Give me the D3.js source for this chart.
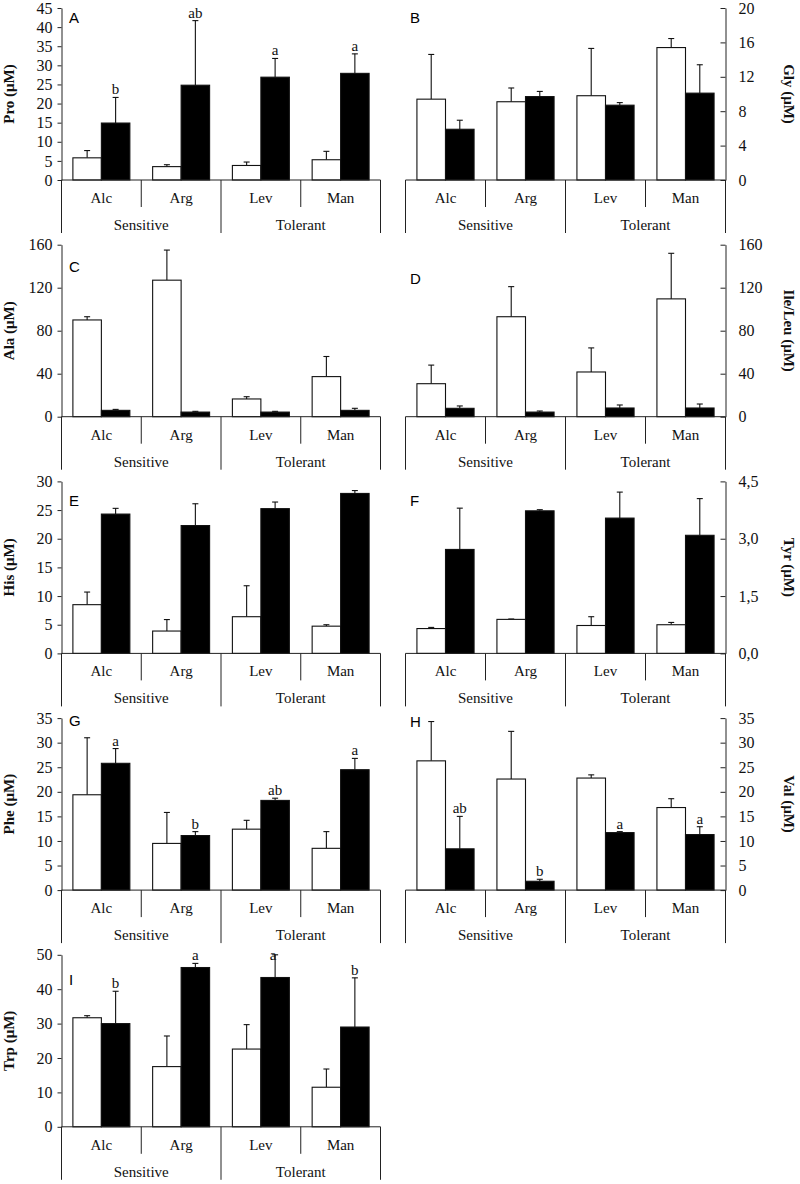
<!DOCTYPE html>
<html>
<head>
<meta charset="utf-8">
<script src="https://cdn.jsdelivr.net/npm/d3@7"></script>
<style>
  html, body { margin: 0; padding: 0; background: #fff; }
  svg { display: block; }
</style>
</head>
<body>
<script>
// ---------- DATA ----------
const categories = ["Alc", "Arg", "Lev", "Man"];
const groupLabels = ["Sensitive", "Tolerant"];

// A - Pro
const proWhite = [5.8, 3.5, 3.8, 5.3];
const proWhiteSD = [1.9, 0.5, 0.9, 2.2];
const proBlack = [14.9, 24.8, 26.9, 27.9];
const proBlackSD = [6.7, 16.9, 4.9, 5.1];
const proSig = ["b", "ab", "a", "a"];
const proTicks = [0, 5, 10, 15, 20, 25, 30, 35, 40, 45];

// B - Gly
const glyWhite = [9.4, 9.1, 9.8, 15.4];
const glyWhiteSD = [5.2, 1.6, 5.5, 1.05];
const glyBlack = [5.9, 9.7, 8.7, 10.1];
const glyBlackSD = [1.05, 0.6, 0.3, 3.3];
const glyTicks = [0, 4, 8, 12, 16, 20];

// C - Ala
const alaWhite = [90, 127, 16.5, 37.3];
const alaWhiteSD = [3, 28, 2.1, 18.7];
const alaBlack = [5.9, 4.3, 4.3, 5.9];
const alaBlackSD = [0.9, 0.7, 0.7, 1.9];
const alaTicks = [0, 40, 80, 120, 160];

// D - Ile/Leu
const ileWhite = [30.7, 93, 41.6, 109.6];
const ileWhiteSD = [17.3, 28, 22.4, 42.4];
const ileBlack = [7.8, 4.3, 8.1, 8.1];
const ileBlackSD = [2.2, 1.0, 2.8, 3.7];
const ileTicks = [0, 40, 80, 120, 160];

// E - His
const hisWhite = [8.5, 3.9, 6.4, 4.75];
const hisWhiteSD = [2.2, 2.0, 5.4, 0.25];
const hisBlack = [24.3, 22.3, 25.25, 27.9];
const hisBlackSD = [1.0, 3.8, 1.15, 0.5];
const hisTicks = [0, 5, 10, 15, 20, 25, 30];

// F - Tyr
const tyrWhite = [0.65, 0.89, 0.73, 0.75];
const tyrWhiteSD = [0.03, 0.01, 0.23, 0.06];
const tyrBlack = [2.72, 3.73, 3.54, 3.09];
const tyrBlackSD = [1.08, 0.03, 0.68, 0.96];
const tyrTicks = [0, 1.5, 3, 4.5];
const tyrTickLabels = ["0,0", "1,5", "3,0", "4,5"];

// G - Phe
const pheWhite = [19.4, 9.5, 12.4, 8.5];
const pheWhiteSD = [11.6, 6.3, 1.8, 3.4];
const pheBlack = [25.8, 11.1, 18.25, 24.5];
const pheBlackSD = [3.0, 0.8, 0.45, 2.3];
const pheSig = ["a", "b", "ab", "a"];
const pheTicks = [0, 5, 10, 15, 20, 25, 30, 35];

// H - Val
const valWhite = [26.3, 22.6, 22.8, 16.8];
const valWhiteSD = [8.0, 9.7, 0.65, 1.8];
const valBlack = [8.4, 1.8, 11.7, 11.3];
const valBlackSD = [6.6, 0.4, 0.2, 1.6];
const valSig = ["ab", "b", "a", "a"];
const valTicks = [0, 5, 10, 15, 20, 25, 30, 35];

// I - Trp
const trpWhite = [31.7, 17.5, 22.6, 11.5];
const trpWhiteSD = [0.6, 8.9, 7.1, 5.3];
const trpBlack = [30.0, 46.3, 43.4, 29.0];
const trpBlackSD = [9.4, 1.2, 6.6, 14.3];
const trpSig = ["b", "a", "a", "b"];
const trpTicks = [0, 10, 20, 30, 40, 50];

// ---------- PANELS ----------
const panels = [
  { letter: "A", label: "Pro (μM)", row: 0, side: "L", white: proWhite, whiteSD: proWhiteSD, black: proBlack, blackSD: proBlackSD, sig: proSig, ticks: proTicks, letterDy: 15 },
  { letter: "B", label: "Gly (μM)", row: 0, side: "R", white: glyWhite, whiteSD: glyWhiteSD, black: glyBlack, blackSD: glyBlackSD, sig: null, ticks: glyTicks, letterDy: 15 },
  { letter: "C", label: "Ala (μM)", row: 1, side: "L", white: alaWhite, whiteSD: alaWhiteSD, black: alaBlack, blackSD: alaBlackSD, sig: null, ticks: alaTicks, letterDy: 27 },
  { letter: "D", label: "Ile/Leu (μM)", row: 1, side: "R", white: ileWhite, whiteSD: ileWhiteSD, black: ileBlack, blackSD: ileBlackSD, sig: null, ticks: ileTicks, letterDy: 39 },
  { letter: "E", label: "His (μM)", row: 2, side: "L", white: hisWhite, whiteSD: hisWhiteSD, black: hisBlack, blackSD: hisBlackSD, sig: null, ticks: hisTicks, letterDy: 25 },
  { letter: "F", label: "Tyr (μM)", row: 2, side: "R", white: tyrWhite, whiteSD: tyrWhiteSD, black: tyrBlack, blackSD: tyrBlackSD, sig: null, ticks: tyrTicks, tickLabels: tyrTickLabels, letterDy: 25 },
  { letter: "G", label: "Phe (μM)", row: 3, side: "L", white: pheWhite, whiteSD: pheWhiteSD, black: pheBlack, blackSD: pheBlackSD, sig: pheSig, ticks: pheTicks, letterDy: 8 },
  { letter: "H", label: "Val (μM)", row: 3, side: "R", white: valWhite, whiteSD: valWhiteSD, black: valBlack, blackSD: valBlackSD, sig: valSig, ticks: valTicks, letterDy: 9 },
  { letter: "I", label: "Trp (μM)", row: 4, side: "L", white: trpWhite, whiteSD: trpWhiteSD, black: trpBlack, blackSD: trpBlackSD, sig: trpSig, ticks: trpTicks, letterDy: 30 }
];

// ---------- DRAW ----------
const W = 800, H = 1184;
const svg = d3.select("body").append("svg").attr("width", W).attr("height", H);
const serif = "'Liberation Serif', 'Times New Roman', serif";
const sans = "'Liberation Sans', Arial, sans-serif";
const rowTop0 = 8, rowStep = 236.7, plotH = 172;

function drawPanel(p) {
  const top = rowTop0 + p.row * rowStep;
  const zero = top + plotH;
  const left = p.side === "L";
  const x0 = left ? 61.5 : 405.5;
  const x1 = left ? 380.5 : 725.5;

  const x = d3.scaleBand().domain(categories).range([x0, x1]);
  const xs = d3.scaleBand().domain(["w", "b"]).range([0, x.bandwidth()]).paddingInner(0).paddingOuter(0.4);
  const y = d3.scaleLinear().domain([0, d3.max(p.ticks)]).range([zero, top]);

  const g = svg.append("g");

  const rows = categories.map((c, i) => [
    { c, s: "w", v: p.white[i], sd: p.whiteSD[i], sig: null },
    { c, s: "b", v: p.black[i], sd: p.blackSD[i], sig: p.sig ? p.sig[i] : null }
  ]).flat();

  // error bars
  const eb = g.append("g").attr("stroke", "#111").attr("stroke-width", 1.1);
  eb.selectAll("line.v").data(rows).join("line")
    .attr("x1", d => x(d.c) + xs(d.s) + xs.bandwidth() / 2)
    .attr("x2", d => x(d.c) + xs(d.s) + xs.bandwidth() / 2)
    .attr("y1", d => y(d.v))
    .attr("y2", d => y(d.v + d.sd));
  eb.selectAll("line.c").data(rows).join("line")
    .attr("x1", d => x(d.c) + xs(d.s) + xs.bandwidth() / 2 - 3)
    .attr("x2", d => x(d.c) + xs(d.s) + xs.bandwidth() / 2 + 3)
    .attr("y1", d => y(d.v + d.sd))
    .attr("y2", d => y(d.v + d.sd));

  // bars
  g.append("g").selectAll("rect").data(rows).join("rect")
    .attr("x", d => x(d.c) + xs(d.s))
    .attr("width", xs.bandwidth())
    .attr("y", d => y(d.v))
    .attr("height", d => zero - y(d.v))
    .attr("fill", d => d.s === "w" ? "#fff" : "#000")
    .attr("stroke", "#111")
    .attr("stroke-width", 1.1);

  // significance letters
  g.append("g").selectAll("text").data(rows.filter(d => d.sig)).join("text")
    .attr("x", d => x(d.c) + xs(d.s) + xs.bandwidth() / 2 - (y(d.v + d.sd) - 3 < top + 5 ? 2 : 0))
    .attr("y", d => Math.max(y(d.v + d.sd) - 3, top + 5))
    .attr("text-anchor", "middle")
    .attr("font-family", serif)
    .attr("font-size", 15)
    .attr("fill", "#111")
    .text(d => d.sig);

  // y axis
  const axis = (left ? d3.axisLeft(y) : d3.axisRight(y))
    .tickValues(p.ticks)
    .tickSizeInner(left ? 4 : -5)
    .tickSizeOuter(0)
    .tickPadding(left ? 5 : 13)
    .tickFormat((d, i) => p.tickLabels ? p.tickLabels[i] : d);
  const ga = g.append("g").attr("transform", `translate(${left ? x0 : x1},0)`).call(axis);
  ga.selectAll("text").attr("font-family", serif).attr("font-size", 16).attr("fill", "#111");
  ga.selectAll("line, path").attr("stroke", "#222");

  // baseline and category axis structure
  const lines = g.append("g").attr("stroke", "#222").attr("stroke-width", 1);
  lines.append("line").attr("x1", x0).attr("x2", x1).attr("y1", zero).attr("y2", zero);
  const bounds = [x0, x("Arg"), x("Lev"), x("Man"), x1];
  bounds.forEach((bx, i) => {
    const outer = (i % 2 === 0);
    lines.append("line").attr("x1", bx).attr("x2", bx)
      .attr("y1", zero).attr("y2", zero + (outer ? 53 : 27));
  });

  // category labels
  g.append("g").selectAll("text").data(categories).join("text")
    .attr("x", d => x(d) + x.bandwidth() / 2)
    .attr("y", zero + 23)
    .attr("text-anchor", "middle")
    .attr("font-family", serif)
    .attr("font-size", 15)
    .attr("fill", "#111")
    .text(d => d);

  const gx = d3.scaleBand().domain(groupLabels).range([x0, x1]);
  g.append("g").selectAll("text").data(groupLabels).join("text")
    .attr("x", d => gx(d) + gx.bandwidth() / 2)
    .attr("y", zero + 50)
    .attr("text-anchor", "middle")
    .attr("font-family", serif)
    .attr("font-size", 15)
    .attr("fill", "#111")
    .text(d => d);

  // y label
  const mid = (top + zero) / 2;
  g.append("text")
    .attr("transform", left ? `translate(14,${mid}) rotate(-90)` : `translate(784,${mid}) rotate(90)`)
    .attr("text-anchor", "middle")
    .attr("font-family", serif)
    .attr("font-weight", "bold")
    .attr("font-size", 15)
    .attr("fill", "#111")
    .text(p.label);

  // panel letter
  g.append("text")
    .attr("x", left ? 69 : 410)
    .attr("y", top + p.letterDy)
    .attr("font-family", sans)
    .attr("font-size", 15)
    .attr("fill", "#000")
    .text(p.letter);
}

panels.forEach(drawPanel);
</script>
</body>
</html>
